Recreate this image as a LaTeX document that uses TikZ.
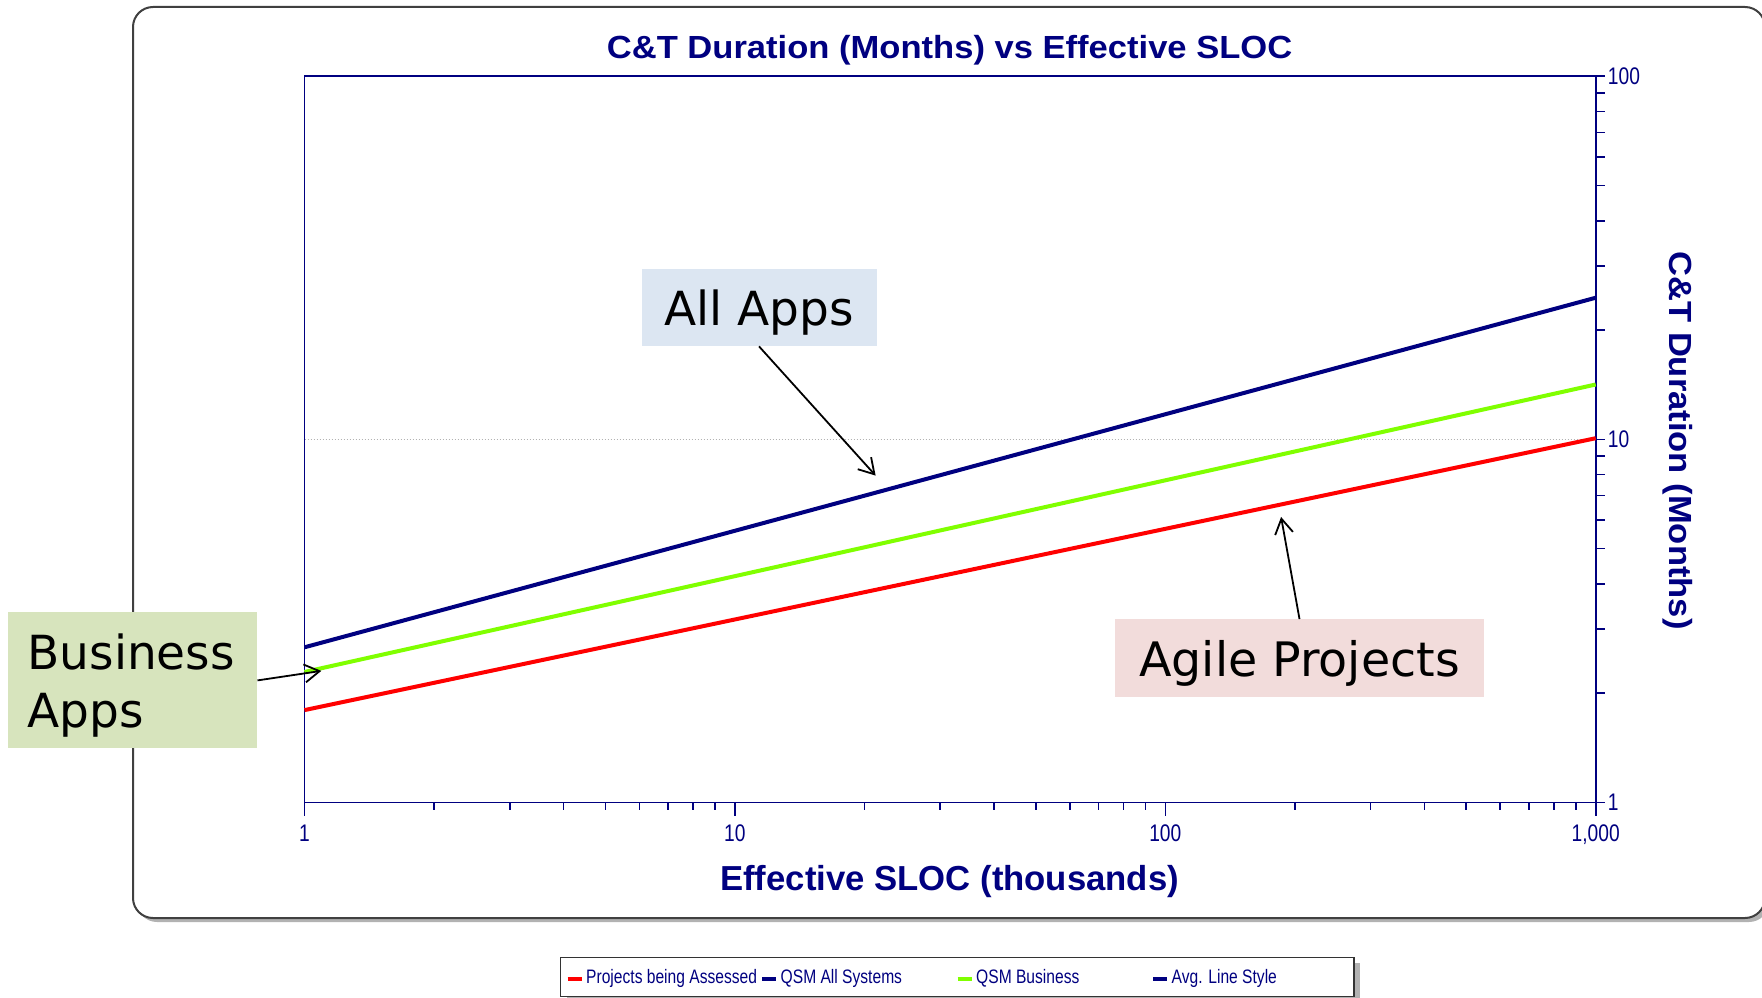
\documentclass[tikz,border=0pt]{standalone}
\usepackage{fontspec}
\setmainfont{Liberation Sans}
\newfontfamily\calloutfont{DejaVu Sans}
\newfontfamily\narrowfont[FakeStretch=0.8]{Liberation Sans}
\newfontfamily\titlefont[FakeStretch=1.08]{Liberation Sans}
\usepackage{xcolor}
\usepackage{tikz}
\usetikzlibrary{positioning,arrows.meta,calc}
\definecolor{chartnavy}{RGB}{0,0,128}
\definecolor{chartred}{RGB}{255,0,0}
\definecolor{chartgreen}{RGB}{128,255,0}
\definecolor{allfill}{RGB}{220,230,242}
\definecolor{busfill}{RGB}{215,228,189}
\definecolor{agilefill}{RGB}{242,220,219}
\tikzset{
  chartframe/.style={
    draw=black!75,
    line width=2pt,
    rounded corners=20pt
  },
  plotaxis/.style={
    draw=chartnavy,
    line width=1.6pt
  },
  trendline/.style={
    line width=4pt
  },
  gridline/.style={
    draw=black!30,
    dotted,
    line width=1pt
  },
  callout/.style={
    rectangle,
    align=center,
    font=\calloutfont\fontsize{47}{58}\selectfont,
    text=black,
    text height=45pt,
    text depth=8.3pt,
    inner sep=0pt
  },
  calloutarrow/.style={
    -{Straight Barb[length=15pt,width=18pt]},
    line width=1.8pt
  },
  ticklabel/.style={
    font=\narrowfont\fontsize{24}{28}\selectfont,
    text=chartnavy,
    inner sep=0pt
  },
  axistitle/.style={
    font=\titlefont\bfseries\fontsize{32}{38}\selectfont,
    text=chartnavy,
    inner sep=0pt
  },
  legtext/.style={
    font=\narrowfont\fontsize{19.5}{23}\selectfont,
    text=chartnavy,
    inner sep=0pt
  },
  legdash/.style={
    line width=4pt
  }
}

\begin{document}
\begin{tikzpicture}[
    x=1pt, y=-1pt
    ]
    \useasboundingbox (0,0) rectangle (1762,998);
    \clip (0,0) rectangle (1762,998);
    
    \fill[black!30, rounded corners=20pt] (137,11) rectangle (1769,922);
    \draw[chartframe, fill=white] (133,7) rectangle (1765,918);
    
    \node[axistitle] (title) at (949.6,50.6) {C\&T Duration (Months) vs Effective SLOC};
    
    \begin{scope}[shift={(304.5,802.3)}, x=430.4pt, y=363pt]
        \draw[gridline] (0,1) -- (3,1);
        
        \foreach \d in {0,1,2} {
            \foreach \k in {2,...,9} {
                \draw[plotaxis] ({\d+log10(\k)},0) -- ++(0,-8pt);
            }
        }
        \foreach \d/\lab in {0/1, 1/10, 2/100, 3/{1,000}} {
            \draw[plotaxis] (\d,0) -- ++(0,-14pt);
            \node[ticklabel, anchor=base] (xtick\d) at ($(\d,0)+(0,-39pt)$) {\lab};
        }
        
        \foreach \d in {0,1} {
            \foreach \k in {2,...,9} {
                \draw[plotaxis] (3,{\d+log10(\k)}) -- ++(9pt,0);
            }
        }
        \foreach \d/\lab in {0/1, 1/10, 2/100} {
            \draw[plotaxis] (3,\d) -- ++(9pt,0);
            \node[ticklabel, anchor=west] (ytick\d) at ($(3,\d)+(12pt,0)$) {\lab};
        }
        
        \draw[plotaxis] (0,0) rectangle (3,2);
        
        \draw[trendline, chartnavy] (0,0.427) -- (3,1.390);
        \draw[trendline, chartgreen] (0,0.359) -- (3,1.151);
        \draw[trendline, chartred] (0,0.254) -- (3,1.003);
        
        \coordinate (alltip) at (1.327,0.90);
        \coordinate (bustip) at (0.039,0.362);
        \coordinate (agiletip) at (2.269,0.786);
    \end{scope}
    
    \node[axistitle, font=\bfseries\fontsize{34.7}{40}\selectfont] (xtitle) at (949.6,882) {Effective SLOC (thousands)};
    \node[axistitle, rotate=-90] (ytitle) at (1677.7,440.5) {C\&T Duration (Months)};
    
    \node[callout, fill=allfill, minimum width=235pt, minimum height=77.5pt] (allapps) at (759,307.4) {All Apps};
    \node[callout, fill=busfill, minimum width=249.4pt, minimum height=136pt, text width=210pt, align=left, text height=40pt, text depth=61.3pt] (busapps) at (132.6,680.4) {Business\\Apps};
    \node[callout, fill=agilefill, minimum width=369.7pt, minimum height=77.5pt, font=\calloutfont\fontsize{47.5}{58}\selectfont] (agile) at (1299.5,658) {Agile Projects};
    
    \draw[calloutarrow] (allapps.south) -- (alltip);
    \draw[calloutarrow] (busapps.east) -- (bustip);
    \draw[calloutarrow] (agile.north) -- (agiletip);
    
    \fill[black!30] (566.7,963.4) rectangle (1360,1004);
    \draw[draw=black!80, fill=white, line width=1.5pt] (560.7,957.4) rectangle (1354,996.7);
    \foreach \x/\c/\t [count=\i] in {567.5/chartred/Projects being Assessed, 762/chartnavy/QSM All Systems, 957.5/chartgreen/QSM Business, 1153/chartnavy/Avg. Line Style} {
        \draw[legdash, \c] (\x,978.5) -- ++(14,0) coordinate (lg\i);
        \node[legtext, right=4.5pt of lg\i] (lgt\i) {\t};
    }
    
\end{tikzpicture}
\end{document}
